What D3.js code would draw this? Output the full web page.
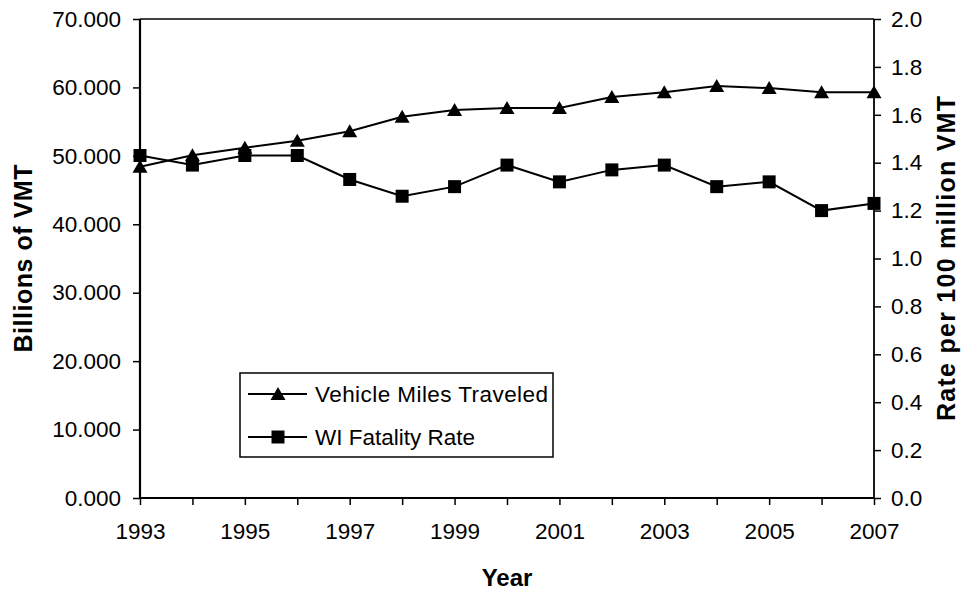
<!DOCTYPE html>
<html>
<head>
<meta charset="utf-8">
<script src="https://cdn.jsdelivr.net/npm/d3@7/dist/d3.min.js"></script>
<style>
html,body{margin:0;padding:0;background:#fff;}
svg{display:block;}
text{font-family:"Liberation Sans",Arial,sans-serif;fill:#000;}
</style>
</head>
<body>
<svg id="chart" width="962" height="590"></svg>
<script>
const years = [1993,1994,1995,1996,1997,1998,1999,2000,2001,2002,2003,2004,2005,2006,2007];
const vmt = [48.4,50.1,51.2,52.2,53.6,55.7,56.7,57.0,57.0,58.6,59.3,60.2,59.9,59.3,59.3];
const fatalityRate = [1.43,1.39,1.43,1.43,1.33,1.26,1.30,1.39,1.32,1.37,1.39,1.30,1.32,1.20,1.23];
const leftTicks = [0,10,20,30,40,50,60,70];
const rightTicks = [0,0.2,0.4,0.6,0.8,1.0,1.2,1.4,1.6,1.8,2.0];
const xLabelYears = [1993,1995,1997,1999,2001,2003,2005,2007];
const seriesNames = ["Vehicle Miles Traveled","WI Fatality Rate"];

const svg = d3.select("#chart");
const L = 140, R = 874, T = 19, B = 498;

const x = d3.scaleLinear().domain([1993,2007]).range([L,R]);
const yL = d3.scaleLinear().domain([0,70]).range([B,T]);
const yR = d3.scaleLinear().domain([0,2]).range([B,T]);

// top border
svg.append("line").attr("x1",L).attr("x2",R).attr("y1",T).attr("y2",T)
  .attr("stroke","#000").attr("stroke-width",1.5);

const tickFont = "22.5px";

// left axis
const gL = svg.append("g").attr("transform",`translate(${L},0)`)
  .call(d3.axisLeft(yL).tickValues(leftTicks).tickFormat(d3.format(".3f")).tickSize(7).tickPadding(12));
// right axis
const gR = svg.append("g").attr("transform",`translate(${R},0)`)
  .call(d3.axisRight(yR).tickValues(rightTicks).tickFormat(d3.format(".1f")).tickSize(7).tickPadding(10));
// bottom axis
const gB = svg.append("g").attr("transform",`translate(0,${B})`)
  .call(d3.axisBottom(x).tickValues(years).tickFormat(d => xLabelYears.includes(d) ? String(d) : "").tickSize(7).tickPadding(18));

[gL,gR,gB].forEach(g => {
  g.select(".domain").attr("stroke","#000").attr("stroke-width",2.2);
  g.selectAll(".tick line").attr("stroke","#000").attr("stroke-width",1.5);
  g.selectAll(".tick text").style("font-size",tickFont).attr("fill","#000")
    .style("font-family","'Liberation Sans',Arial,sans-serif");
});
gR.select(".domain").attr("stroke-width",1.8);
gL.select(".domain").attr("d",`M0,${T}V${B}`);
gR.select(".domain").attr("d",`M0,${T}V${B}`);
gB.select(".domain").attr("d",`M${L},0H${R}`);

// axis titles
svg.append("text").attr("transform",`translate(32,${(T+B)/2}) rotate(-90)`)
  .attr("text-anchor","middle").style("font-size","25px").style("font-weight","bold")
  .attr("textLength",188).attr("lengthAdjust","spacing")
  .text("Billions of VMT");
svg.append("text").attr("transform",`translate(955,${(T+B)/2}) rotate(-90)`)
  .attr("text-anchor","middle").style("font-size","25px").style("font-weight","bold")
  .attr("textLength",325).attr("lengthAdjust","spacing")
  .text("Rate per 100 million VMT");
svg.append("text").attr("x",(L+R)/2).attr("y",586)
  .attr("text-anchor","middle").style("font-size","24px").style("font-weight","bold")
  .text("Year");

const triPath = "M0,-7L7.5,6L-7.5,6Z";
const sqPath = "M-6.5,-6.5H6.5V6.5H-6.5Z";

// VMT series
const lineL = d3.line().x((d,i)=>x(years[i])).y(d=>yL(d));
svg.append("path").datum(vmt).attr("d",lineL).attr("fill","none")
  .attr("stroke","#000").attr("stroke-width",2);
svg.append("g").selectAll("path").data(vmt).join("path")
  .attr("d",triPath).attr("fill","#000")
  .attr("transform",(d,i)=>`translate(${x(years[i])},${yL(d)})`);

// Fatality series
const lineR = d3.line().x((d,i)=>x(years[i])).y(d=>yR(d));
svg.append("path").datum(fatalityRate).attr("d",lineR).attr("fill","none")
  .attr("stroke","#000").attr("stroke-width",2);
svg.append("g").selectAll("path").data(fatalityRate).join("path")
  .attr("d",sqPath).attr("fill","#000")
  .attr("transform",(d,i)=>`translate(${x(years[i])},${yR(d)})`);

// legend
const lg = svg.append("g");
lg.append("rect").attr("x",240).attr("y",373).attr("width",313).attr("height",84)
  .attr("fill","#fff").attr("stroke","#000").attr("stroke-width",1.5);
const markers = [triPath, sqPath];
const legendLens = [233, null];
seriesNames.forEach((name,i) => {
  const cy = 394 + i*43;
  lg.append("line").attr("x1",248).attr("x2",307).attr("y1",cy).attr("y2",cy)
    .attr("stroke","#000").attr("stroke-width",2);
  lg.append("path").attr("d",markers[i]).attr("fill","#000")
    .attr("transform",`translate(278,${cy})`);
  const t = lg.append("text").attr("x",315).attr("y",cy+8).style("font-size","22.5px").text(name);
  if (legendLens[i]) t.attr("textLength",legendLens[i]).attr("lengthAdjust","spacing");
});
</script>
</body>
</html>
